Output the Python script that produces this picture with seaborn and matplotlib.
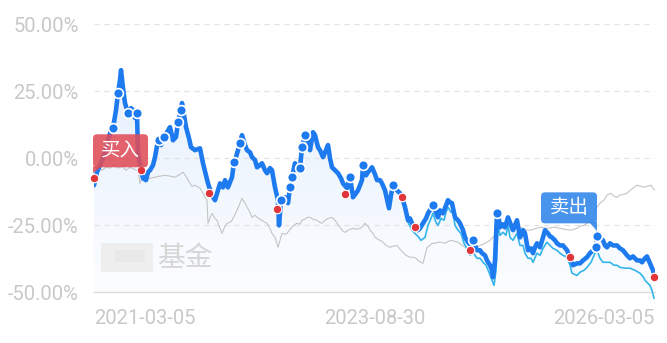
import numpy as np
import pandas as pd
import matplotlib
matplotlib.use("Agg")
import matplotlib.pyplot as plt
import matplotlib.transforms as mtransforms
from matplotlib.patches import FancyBboxPatch, Polygon, Rectangle
import seaborn as sns

# ---------------- data (trading-day index, return in %) ----------------
blue_idx = [0, 6, 12, 20, 28, 34, 38, 44, 48, 52, 54, 58, 62, 68, 74, 78, 82, 86, 88, 94,
            98, 104, 108, 112, 118, 122, 128, 134, 140, 146, 152, 158, 164, 168, 174, 176, 180, 184, 190, 194,
            202, 212, 218, 224, 228, 236, 242, 248, 252, 258, 262, 268, 276, 280, 284, 288, 292, 296, 302, 306,
            312, 316, 322, 326, 332, 336, 342, 346, 352, 356, 362, 368, 370, 374, 382, 388, 392, 396, 402, 406,
            412, 416, 422, 428, 432, 438, 442, 448, 452, 458, 464, 468, 472, 476, 482, 488, 494, 498, 506, 512,
            518, 524, 528, 532, 536, 538, 544, 548, 556, 562, 566, 572, 576, 582, 590, 594, 598, 602, 606, 612,
            616, 622, 628, 632, 636, 642, 648, 652, 658, 664, 668, 674, 678, 684, 688, 692, 698, 704, 708, 712,
            716, 722, 728, 732, 738, 742, 748, 754, 758, 766, 772, 776, 782, 786, 792, 796, 798, 802, 806, 810,
            812, 818, 822, 828, 832, 838, 846, 852, 858, 862, 868, 874, 878, 882, 886, 892, 898, 902, 908, 912,
            916, 922, 926, 932, 938, 946, 952, 958, 966, 972, 978, 986, 992, 998, 1004, 1006, 1012, 1018, 1022, 1026,
            1032, 1038, 1046, 1052, 1058, 1066, 1072, 1078, 1086, 1092, 1096, 1102, 1106, 1112, 1118, 1122]
blue_pct = [-10.1, -5.2, -2.6, 1.1, 6.7, 10.5, 11.2, 18.0, 24.3, 29.2, 32.9, 26.2, 20.6, 16.8, 18.7, 18.0, 15.0, 16.8, 1.9, -4.5,
            -7.5, -8.2, -5.2, -4.5, -2.6, 0.4, 6.7, 4.9, 7.9, 9.7, 11.6, 6.7, 7.9, 13.5, 18.0, 20.6, 16.1, 11.6, 7.5, 4.1,
            3.0, 3.7, -1.9, -6.4, -9.4, -13.8, -15.7, -12.0, -9.4, -10.9, -8.2, -10.9, -7.1, -1.5, 0.4, 3.0, 5.6, 8.6, 4.9, 3.0,
            2.2, 0.4, -0.7, -3.4, -2.6, -1.9, -4.5, -5.6, -3.7, -4.5, -10.9, -15.7, -25.1, -15.7, -14.6, -16.8, -10.9, -7.1, -1.9, -4.5,
            -3.7, 4.1, 8.6, 6.7, 3.0, 9.7, 8.6, 4.1, 3.0, 0.4, 3.0, 4.9, 0.0, -3.4, -4.5, -5.6, -7.5, -9.4, -11.2, -7.1,
            -14.6, -13.1, -12.0, -10.1, -8.2, -2.6, -6.4, -5.2, -3.4, -6.0, -8.2, -8.2, -9.4, -12.0, -18.7, -13.8, -10.1, -11.2, -12.0, -13.1,
            -14.6, -18.3, -23.2, -22.5, -24.3, -25.8, -26.9, -26.2, -24.3, -22.5, -20.6, -18.7, -17.6, -20.2, -22.1, -19.5, -20.6, -17.6, -15.7, -16.5,
            -16.8, -22.1, -23.2, -24.3, -26.9, -29.6, -31.4, -32.6, -30.7, -34.4, -34.4, -35.5, -36.3, -38.2, -40.0, -41.9, -44.5, -38.2, -20.6, -23.2,
            -25.8, -24.7, -25.8, -22.1, -24.0, -26.9, -23.2, -29.6, -26.9, -28.1, -34.4, -33.7, -35.5, -33.3, -31.8, -33.3, -29.6, -26.9, -28.1, -29.2,
            -29.6, -30.7, -31.8, -32.6, -32.6, -34.4, -37.0, -40.0, -39.3, -39.3, -38.2, -37.0, -35.5, -34.4, -33.3, -29.2, -29.9, -30.7, -32.6, -33.3,
            -31.8, -32.6, -32.6, -33.7, -34.4, -36.3, -37.4, -36.7, -38.2, -38.2, -38.9, -37.4, -36.7, -39.3, -41.9, -44.5]

cyan_idx = [616, 622, 628, 636, 642, 648, 654, 662, 668, 674, 678, 684, 688, 694, 700, 704, 708, 714, 718, 722,
            728, 734, 740, 746, 752, 758, 766, 772, 778, 784, 790, 796, 800, 804, 808, 812, 818, 824, 828, 832,
            838, 846, 852, 858, 862, 868, 874, 878, 886, 892, 898, 906, 912, 918, 926, 932, 938, 946, 952, 956,
            966, 972, 980, 986, 994, 1002, 1006, 1012, 1018, 1026, 1032, 1040, 1046, 1052, 1062, 1072, 1082, 1092, 1098, 1102,
            1108, 1112, 1116, 1120]
cyan_pct = [-14.6, -18.3, -23.9, -26.9, -28.1, -29.2, -30.7, -29.6, -25.1, -22.5, -20.6, -24.0, -25.1, -22.5, -23.2, -20.2, -18.3, -20.2, -20.2, -25.1,
            -26.9, -28.1, -31.8, -33.7, -36.3, -35.2, -37.4, -37.4, -38.9, -40.0, -42.6, -45.6, -47.5, -41.9, -25.1, -28.8, -27.7, -28.8, -25.1, -29.6,
            -30.7, -28.1, -32.6, -32.6, -35.5, -37.4, -37.4, -38.9, -35.5, -36.3, -33.7, -31.4, -32.6, -33.7, -34.4, -35.5, -36.3, -37.0, -40.0, -43.0,
            -43.8, -42.6, -41.9, -40.8, -38.9, -35.5, -34.4, -37.4, -38.9, -38.9, -38.9, -40.0, -40.0, -40.8, -41.1, -41.1, -41.9, -43.0, -44.2, -45.6,
            -46.8, -47.5, -49.4, -52.4]

gray_idx = [0, 8, 16, 24, 32, 40, 48, 56, 64, 72, 80, 88, 92, 98, 104, 112, 122, 132, 142, 152,
            162, 172, 178, 184, 188, 196, 202, 212, 220, 226, 228, 236, 242, 246, 252, 256, 262, 266, 272, 276,
            282, 286, 292, 296, 302, 306, 312, 316, 322, 326, 332, 336, 342, 346, 352, 356, 362, 368, 372, 376,
            382, 386, 392, 396, 402, 406, 412, 416, 422, 426, 432, 438, 446, 452, 456, 462, 468, 476, 482, 486,
            492, 498, 502, 508, 512, 518, 526, 532, 536, 542, 548, 552, 558, 562, 568, 572, 578, 584, 592, 598,
            606, 612, 618, 624, 632, 638, 644, 648, 654, 658, 662, 666, 672, 676, 682, 688, 694, 702, 708, 716,
            722, 728, 734, 742, 752, 762, 772, 782, 792, 806, 814, 824, 834, 844, 854, 864, 874, 884, 894, 906,
            920, 932, 942, 954, 966, 972, 980, 988, 994, 1000, 1006, 1012, 1020, 1026, 1034, 1040, 1046, 1052, 1060, 1066,
            1072, 1080, 1086, 1094, 1100, 1106, 1114, 1118, 1122]
gray_pct = [-3.7, -3.0, -4.5, -3.4, -3.7, -2.6, -3.7, -3.0, -4.5, -3.4, -4.1, -4.5, -9.4, -6.7, -8.2, -7.5, -7.1, -6.7, -6.4, -6.7,
            -7.1, -6.0, -5.2, -6.7, -8.2, -10.5, -10.1, -11.2, -13.8, -15.7, -24.3, -20.6, -22.5, -23.2, -26.2, -28.1, -25.4, -24.3, -24.0, -23.2,
            -21.0, -19.5, -16.8, -15.0, -16.8, -18.3, -20.2, -22.1, -21.3, -22.1, -22.8, -23.2, -24.0, -24.3, -26.2, -28.1, -29.6, -33.3, -30.7, -28.1,
            -28.4, -28.1, -26.6, -25.8, -24.7, -24.3, -24.7, -23.2, -22.8, -22.1, -22.1, -22.8, -23.2, -24.0, -24.3, -23.2, -22.5, -22.1, -23.2, -24.3,
            -25.8, -27.3, -27.7, -26.9, -26.6, -26.2, -26.6, -26.2, -25.8, -24.3, -25.4, -26.9, -28.1, -29.6, -30.3, -30.7, -31.4, -32.6, -33.3, -32.9,
            -32.6, -34.0, -35.2, -36.3, -37.0, -37.0, -37.4, -38.2, -38.9, -39.3, -36.3, -33.3, -32.6, -31.8, -31.8, -31.4, -31.4, -31.8, -31.1, -30.7,
            -31.1, -31.4, -32.2, -33.3, -34.4, -33.7, -32.6, -31.8, -30.7, -28.1, -25.8, -26.9, -26.9, -26.2, -25.8, -26.9, -26.9, -26.2, -25.8, -26.2,
            -25.8, -26.2, -26.6, -26.9, -26.2, -25.4, -25.1, -24.0, -23.2, -20.2, -18.3, -16.8, -15.7, -13.8, -13.1, -14.2, -14.6, -13.8, -13.5, -13.1,
            -12.0, -10.9, -10.1, -10.5, -10.9, -10.5, -10.1, -11.2, -12.0]

buy_idx = [0, 94, 230, 366, 502, 616, 642, 752, 952, 1120]
buy_pct = [-7.5, -4.5, -13.1, -19.1, -13.5, -14.6, -25.8, -34.4, -37.0, -44.5]

sell_idx = [38, 48, 68, 86, 130, 140, 168, 174, 280, 292, 374, 392, 396, 412, 416, 422, 512, 538, 598, 678,
            758, 806, 1004, 1006]
sell_pct = [11.2, 24.3, 16.8, 16.8, 6.7, 7.9, 13.5, 18.0, -1.5, 5.6, -15.7, -10.9, -7.1, -3.7, 4.1, 8.6, -7.1, -2.6, -10.1, -17.6,
            -30.7, -20.6, -33.3, -29.2]

y_ticks = [50, 25, 0, -25, -50]
x_tick_idx = [0, 561, 1122]
x_tick_labels = ["2021-03-05", "2023-08-30", "2026-03-05"]
buy_text = "买入"
sell_text = "卖出"
watermark_text = "基金"

# ---------------- styling ----------------
BLUE = "#1E7BEF"
CYAN = "#33B5EA"
GRAY = "#C4C4C4"
RED = "#E0353B"
TXT = "#C8C8C8"

sns.set_theme(style="white")
plt.rcParams["font.family"] = ["Roboto", "Noto Sans CJK SC", "DejaVu Sans"]

W, H = 667, 343
fig = plt.figure(figsize=(W / 100, H / 100), dpi=100)
fig.patch.set_facecolor("white")
ax = fig.add_axes([94 / W, (H - 292) / H, 561 / W, (292 - 19.05) / H])
ax.set_facecolor("white")

blue_df = pd.DataFrame({"idx": blue_idx, "pct": blue_pct})
cyan_df = pd.DataFrame({"idx": cyan_idx, "pct": cyan_pct})
gray_df = pd.DataFrame({"idx": gray_idx, "pct": gray_pct})
buy_df = pd.DataFrame({"idx": buy_idx, "pct": buy_pct})
sell_df = pd.DataFrame({"idx": sell_idx, "pct": sell_pct})

YMIN, YMAX = -50, 52
XMIN, XMAX = 0, 1122

# gradient area under the main line
poly = ax.fill_between(blue_df["idx"], blue_df["pct"], YMIN, facecolor="none", lw=0)
grad = np.zeros((256, 1, 4))
grad[:, 0, 0] = 0.12
grad[:, 0, 1] = 0.48
grad[:, 0, 2] = 0.94
grad[:, 0, 3] = np.linspace(0.14, 0.015, 256)
img = ax.imshow(grad, extent=[XMIN, XMAX, YMIN, YMAX], aspect="auto", zorder=0.5, interpolation="bilinear")
img.set_clip_path(poly.get_paths()[0], transform=ax.transData)

# grid lines
for v in y_ticks[:-1]:
    ax.axhline(v, color="#E2E2E2", lw=0.9, dashes=(4, 4), zorder=0.6)

sns.lineplot(data=gray_df, x="idx", y="pct", ax=ax, color=GRAY, lw=0.8, zorder=2)
sns.lineplot(data=cyan_df, x="idx", y="pct", ax=ax, color=CYAN, lw=1.2, zorder=3, clip_on=False)
sns.lineplot(data=blue_df, x="idx", y="pct", ax=ax, color=BLUE, lw=3.3, zorder=4)

sns.scatterplot(data=buy_df, x="idx", y="pct", ax=ax, color=RED, s=38, edgecolor="white",
                linewidth=0.8, zorder=5, clip_on=False)
sns.scatterplot(data=sell_df, x="idx", y="pct", ax=ax, color=BLUE, s=50, edgecolor="white",
                linewidth=1.2, zorder=5)

ax.set_xlim(XMIN, XMAX)
ax.set_ylim(YMIN, YMAX)
ax.set_xlabel("")
ax.set_ylabel("")

for s in ["top", "right", "left"]:
    ax.spines[s].set_visible(False)
ax.spines["bottom"].set_color("#DDDDDD")
ax.spines["bottom"].set_linewidth(1.0)

ax.set_yticks(y_ticks)
ax.set_yticklabels([f"{v:.2f}%" for v in y_ticks])
ax.tick_params(axis="y", length=0, pad=11, labelsize=14.5, labelcolor=TXT)
ax.set_xticks(x_tick_idx)
ax.set_xticklabels(x_tick_labels)
ax.tick_params(axis="x", length=6, width=1.0, color="#DDDDDD", pad=6, labelsize=14.5, labelcolor=TXT)
xl = ax.get_xticklabels()
xl[0].set_ha("left")
xl[-1].set_ha("right")

# ---------------- labels (boxes anchored to data points) ----------------
fig.canvas.draw()
ident = mtransforms.IdentityTransform()

bx, by = ax.transData.transform((buy_idx[0], buy_pct[0]))
fig.add_artist(FancyBboxPatch((bx - 1 + 4, by + 11 + 4), 55 - 8, 33 - 8,
                              boxstyle="round,pad=4,rounding_size=4", transform=ident,
                              fc=(0.88, 0.30, 0.35, 0.88), ec="none", zorder=6))
fig.add_artist(Polygon([[bx - 1, by + 12], [bx + 8, by + 12], [bx - 1, by + 5]], closed=True,
                       transform=ident, fc=(0.88, 0.30, 0.35, 0.88), ec="none", zorder=6))
fig.text(bx + 26.5, by + 27.5, buy_text, transform=ident, ha="center", va="center",
         color="white", fontsize=14, family=["Noto Sans CJK SC"], zorder=7)

sx, sy = ax.transData.transform((sell_idx[-1], sell_pct[-1]))
fig.add_artist(FancyBboxPatch((sx - 56 + 4, sy + 13 + 4), 56 - 8, 31 - 8,
                              boxstyle="round,pad=4,rounding_size=4", transform=ident,
                              fc=(0.22, 0.54, 0.92, 0.92), ec="none", zorder=6))
fig.add_artist(Polygon([[sx - 8, sy + 14], [sx, sy + 14], [sx, sy + 5]], closed=True,
                       transform=ident, fc=(0.22, 0.54, 0.92, 0.92), ec="none", zorder=6))
fig.text(sx - 28, sy + 28.5, sell_text, transform=ident, ha="center", va="center",
         color="white", fontsize=14, family=["Noto Sans CJK SC"], zorder=7)

# ---------------- watermark ----------------
fig.add_artist(Rectangle((101 / W, (H - 272) / H), 52 / W, 29 / H, transform=fig.transFigure,
                         fc="#EDEDED", ec="none", alpha=0.9, zorder=8))
fig.add_artist(Rectangle((115 / W, (H - 262) / H), 30 / W, 12 / H, transform=fig.transFigure,
                         fc="#E4E4E4", ec="none", alpha=0.6, zorder=8))
fig.text(157 / W, (H - 258) / H, watermark_text, ha="left", va="center", color="#D6D6D6",
         fontsize=20, family=["Noto Sans CJK SC"], zorder=8)

fig.savefig("out.png", dpi=100, facecolor="white")
